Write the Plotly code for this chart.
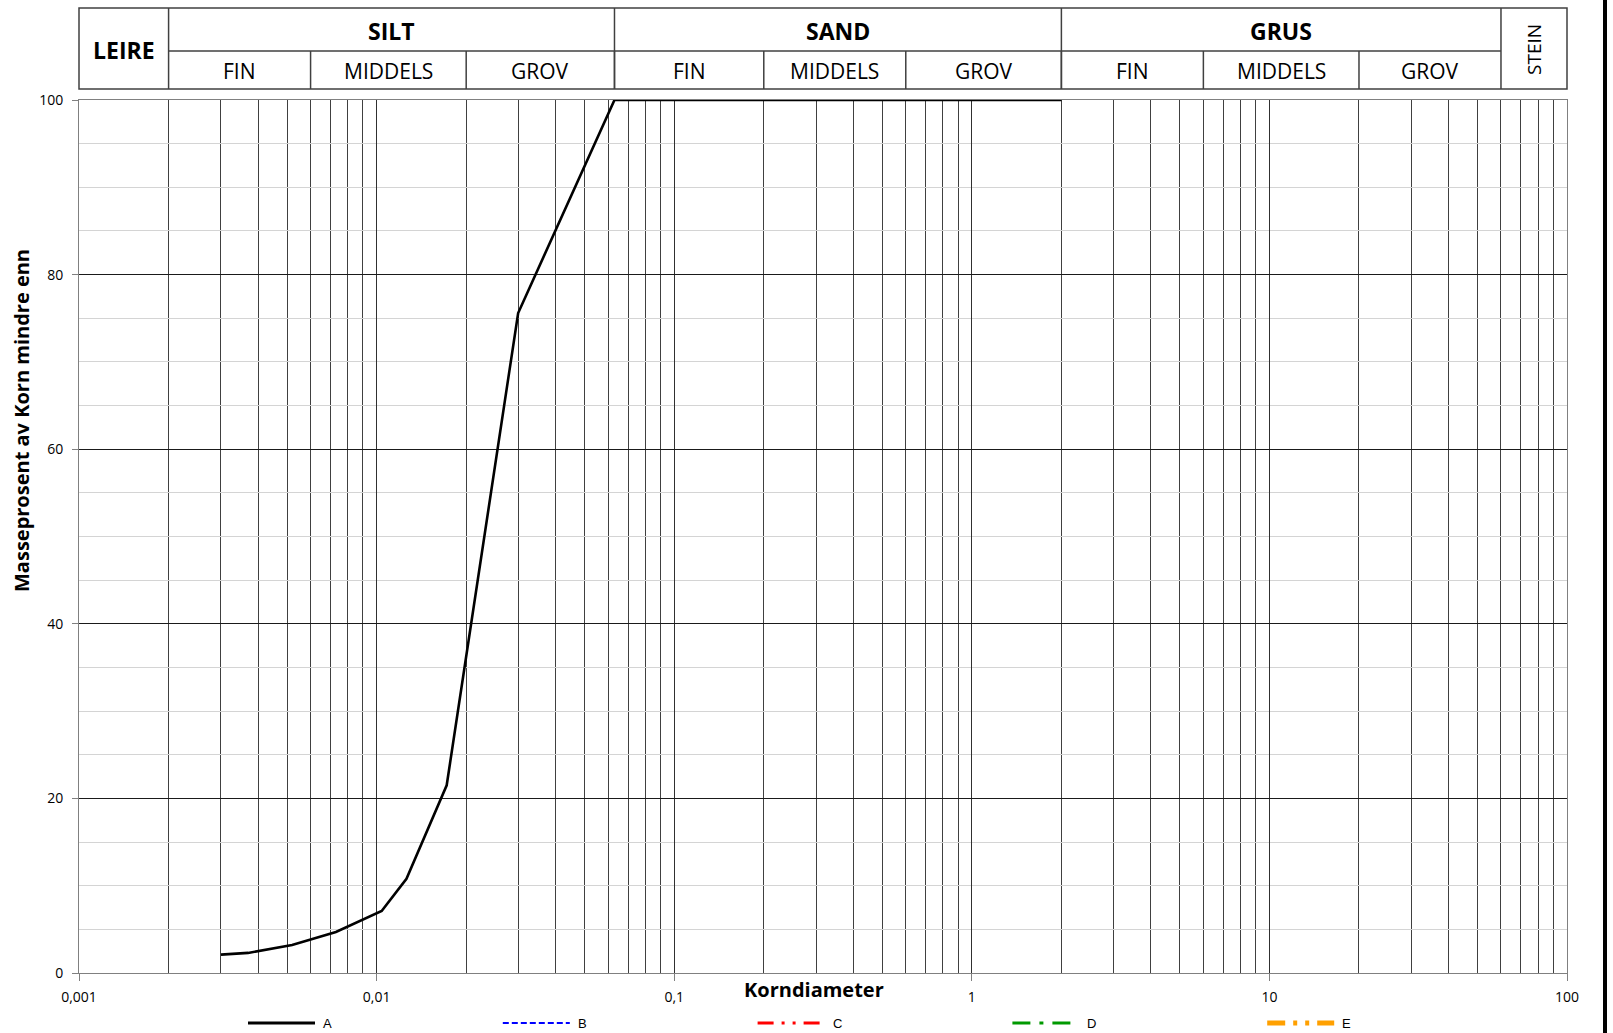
import numpy as np
import plotly.graph_objects as go

# ---------------- data ----------------
grain_size_A = [0.0030, 0.0037, 0.0052, 0.0073, 0.0104, 0.0126, 0.0172, 0.0299, 0.063, 0.125, 0.25, 0.5, 1, 2]
passing_A = [2.1, 2.3, 3.2, 4.7, 7.1, 10.8, 21.5, 75.6, 100, 100, 100, 100, 100, 100]

series_names = ["A", "B", "C", "D", "E"]
series_colors = ["#000000", "#0000FF", "#FF0000", "#009900", "#FFA000"]
series_dash = ["solid", "6px,3px", "16px,8px,3px,8px,3px,8px", "18px,9px,4px,9px", "18px,8px,4px,8px,4px,8px"]
series_width = [3, 2, 3, 3, 5]

x_tickvals = [0.001, 0.01, 0.1, 1, 10, 100]
x_ticktext = ["0,001", "0,01", "0,1", "1", "10", "100"]

main_classes = ["SILT", "SAND", "GRUS"]
main_bounds = [0.002, 0.063, 2, 60]
sub_classes = ["FIN", "MIDDELS", "GROV"] * 3
sub_bounds = [0.002, 0.006, 0.02, 0.063, 0.2, 0.6, 2, 6, 20, 60]
clay_label = "LEIRE"
stone_label = "STEIN"

# ---------------- geometry ----------------
W, H = 1613, 1033
L, R, T, B = 79, 46, 100, 60
PW, PH = W - L - R, H - T - B
XMIN, XMAX = -3, 2


def fx(v):
    return (np.log10(v) - XMIN) / (XMAX - XMIN)


def px_x(p):
    return (p - L) / PW


def px_y(p):
    return (H - B - p) / PH


fig = go.Figure()
fig.add_trace(go.Scatter(x=grain_size_A, y=passing_A, mode="lines", name="A",
                         line=dict(color="#000000", width=2.6), showlegend=False,
                         hoverinfo="skip"))
for n, c, d, w in zip(series_names[1:], series_colors[1:], series_dash[1:], series_width[1:]):
    fig.add_trace(go.Scatter(x=[], y=[], mode="lines", name=n,
                             line=dict(color=c, dash=d, width=w), showlegend=False))

minor_vals = [m * 10.0 ** e for e in range(-3, 2) for m in range(2, 10)]

fig.update_xaxes(type="log", range=[XMIN, XMAX], tickvals=x_tickvals, ticktext=x_ticktext,
                 showgrid=True, gridcolor="#303030", gridwidth=1,
                 minor=dict(tickvals=minor_vals, showgrid=True, gridcolor="#404040", gridwidth=1, ticks=""),
                 ticks="outside", ticklen=7, tickcolor="#808080",
                 showline=True, linecolor="#808080", linewidth=1, mirror=True,
                 zeroline=False, tickfont=dict(family="Open Sans", size=14, color="#000"),
                 ticklabelstandoff=4)
fig.update_yaxes(range=[0, 100], tickvals=[0, 20, 40, 60, 80, 100],
                 showgrid=True, gridcolor="#1a1a1a", gridwidth=1,
                 minor=dict(dtick=5, showgrid=True, gridcolor="#d4d4d4", gridwidth=1, ticks=""),
                 ticks="outside", ticklen=6, tickcolor="#808080",
                 showline=True, linecolor="#808080", linewidth=1, mirror=True,
                 zeroline=False, tickfont=dict(family="Open Sans", size=14, color="#000"),
                 ticklabelstandoff=6)

shapes = []
annots = []
lc = dict(color="#404040", width=1.5)
y_top, y_mid, y_bot = px_y(8), px_y(51), px_y(89)
shapes.append(dict(type="rect", xref="paper", yref="paper", x0=0, x1=1, y0=y_bot, y1=y_top, line=lc))
for b in main_bounds:
    shapes.append(dict(type="line", xref="paper", yref="paper", x0=fx(b), x1=fx(b), y0=y_bot, y1=y_top, line=lc))
shapes.append(dict(type="line", xref="paper", yref="paper", x0=fx(main_bounds[0]), x1=fx(main_bounds[-1]),
                   y0=y_mid, y1=y_mid, line=lc))
for b in sub_bounds[1:-1]:
    shapes.append(dict(type="line", xref="paper", yref="paper", x0=fx(b), x1=fx(b), y0=y_bot, y1=y_mid, line=lc))

hfont_b = dict(family="Open Sans", size=23, color="#000")
hfont = dict(family="Open Sans", size=21, color="#000")
C = dict(xref="paper", yref="paper", showarrow=False, xanchor="center", yanchor="middle")
for i, name in enumerate(main_classes):
    xc = (fx(main_bounds[i]) + fx(main_bounds[i + 1])) / 2
    annots.append(dict(x=xc, y=px_y(31), text="<b>%s</b>" % name, font=hfont_b, **C))
for i, name in enumerate(sub_classes):
    xc = (fx(sub_bounds[i]) + fx(sub_bounds[i + 1])) / 2
    annots.append(dict(x=xc, y=px_y(71), text=name, font=hfont, **C))
annots.append(dict(x=fx(main_bounds[0]) / 2, y=px_y(50),
                   text="<b>%s</b>" % clay_label, font=hfont_b, **C))
annots.append(dict(x=(fx(main_bounds[-1]) + 1) / 2, y=px_y(49),
                   text=stone_label, font=dict(family="Open Sans", size=19, color="#000"), textangle=-90, **C))

# axis titles
annots.append(dict(x=px_x(814), y=px_y(990), text="<b>Korndiameter</b>",
                   font=dict(family="Open Sans", size=20, color="#000"), **C))
annots.append(dict(x=px_x(21), y=px_y(421), text="<b>Masseprosent av Korn mindre enn</b>", textangle=-90,
                   font=dict(family="Open Sans", size=20, color="#000"), **C))

# manual legend
leg_y = px_y(1023)
for i, (n, c, d, w) in enumerate(zip(series_names, series_colors, series_dash, series_width)):
    x0 = 248 + i * 254.8
    shapes.append(dict(type="line", xref="paper", yref="paper", x0=px_x(x0), x1=px_x(x0 + 67),
                       y0=leg_y, y1=leg_y, line=dict(color=c, width=w, dash=d)))
    annots.append(dict(x=px_x(x0 + 73), y=leg_y, xref="paper", yref="paper", text=n, showarrow=False,
                       xanchor="left", yanchor="middle",
                       font=dict(family="Liberation Sans", size=13, color="#000")))

# thick frame bar on right edge
shapes.append(dict(type="rect", xref="paper", yref="paper", x0=px_x(1603), x1=px_x(1607),
                   y0=px_y(H), y1=px_y(0), line=dict(width=0), fillcolor="#000"))

fig.update_layout(width=W, height=H, margin=dict(l=L, r=R, t=T, b=B, autoexpand=False),
                  paper_bgcolor="white", plot_bgcolor="white", showlegend=False,
                  shapes=shapes, annotations=annots)

fig.write_html("out.html", config={"displayModeBar": False},
               post_script="document.body.style.margin='0';document.body.style.overflow='hidden';")
